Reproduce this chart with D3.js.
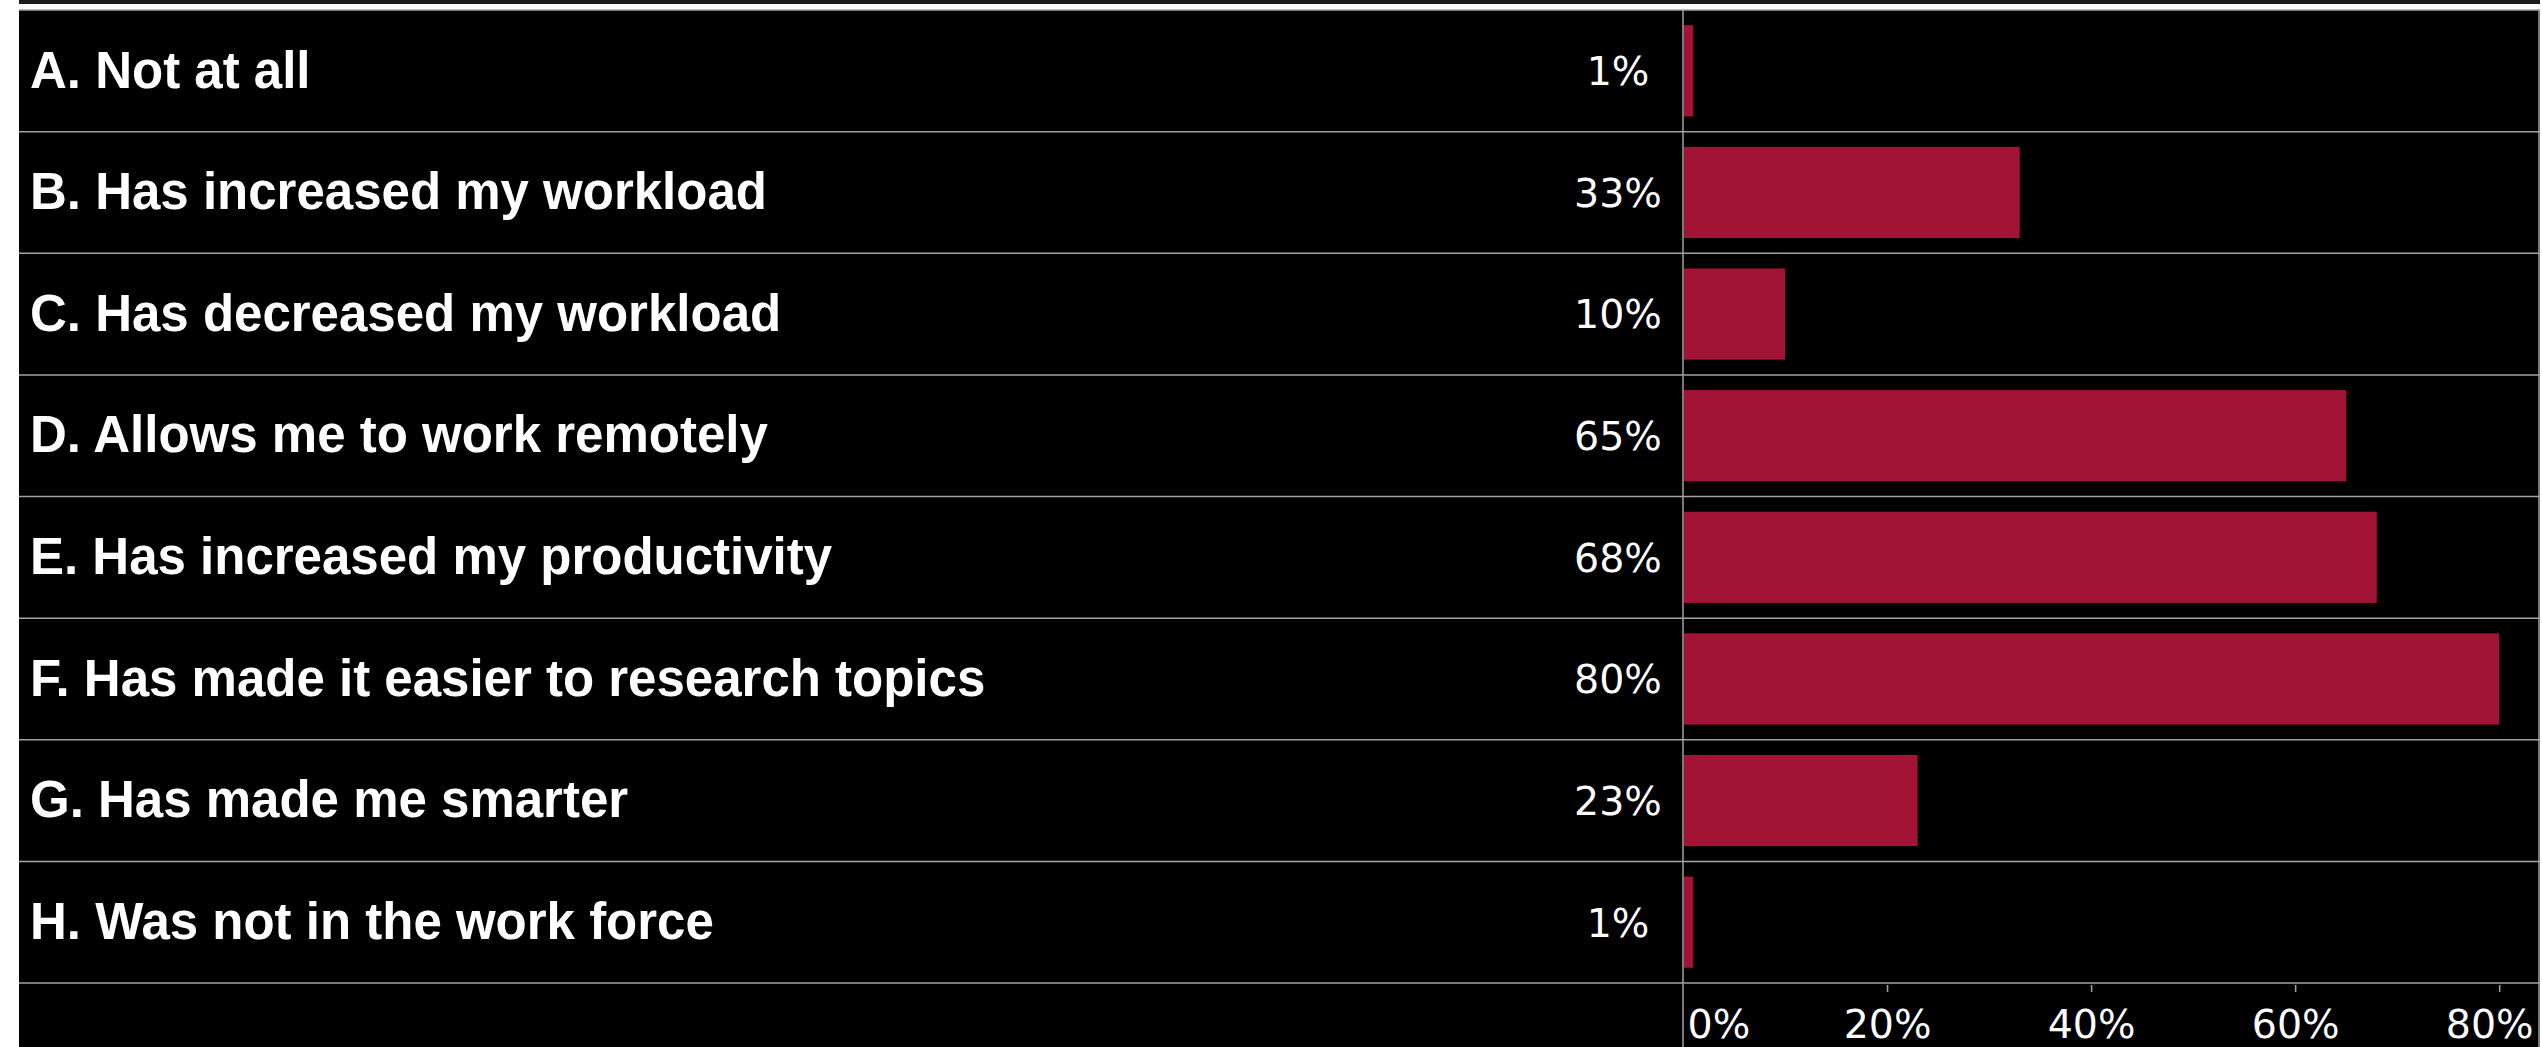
<!DOCTYPE html>
<html>
<head>
<meta charset="utf-8">
<script src="https://cdn.jsdelivr.net/npm/d3@7"></script>
<style>
  html, body { margin: 0; padding: 0; background: #ffffff; }
  svg { display: block; }
</style>
</head>
<body>
<svg id="chart" width="2542" height="1047"></svg>
<script>
// Survey answers and share of respondents choosing each
const categories = [
  "A. Not at all",
  "B. Has increased my workload",
  "C. Has decreased my workload",
  "D. Allows me to work remotely",
  "E. Has increased my productivity",
  "F. Has made it easier to research topics",
  "G. Has made me smarter",
  "H. Was not in the work force"
];
const shares = [0.01, 0.33, 0.10, 0.65, 0.68, 0.80, 0.23, 0.01];
const tickValues = [0, 0.2, 0.4, 0.6, 0.8];

const W = 2542, H = 1047;
const panel = { left: 19, top: 10, right: 2540, bottom: H };
const rowsBottom = 983;
const zeroX = 1683;
const valueLabelX = 1618;
const barColor = "#a31335";
const gridColor = "#a3a3a3";

const svg = d3.select("#chart");

// dark strip along the top edge and the black panel
svg.append("rect").attr("x", panel.left).attr("y", 0)
  .attr("width", panel.right - panel.left).attr("height", 4).attr("fill", "#1c1c1c");
svg.append("rect").attr("x", panel.left).attr("y", panel.top)
  .attr("width", panel.right - panel.left).attr("height", panel.bottom - panel.top)
  .attr("fill", "#000000");

const y = d3.scaleBand()
  .domain(categories)
  .range([panel.top, rowsBottom])
  .paddingInner(0.25)
  .paddingOuter(0.125);

const x = d3.scaleLinear()
  .domain([0, 0.84])
  .range([zeroX, panel.right]);

const pct = d3.format(".0%");

// row separators
const step = y.step();
const rowEdges = d3.range(categories.length + 1).map(i => panel.top + i * step);
svg.append("g").selectAll("line").data(rowEdges).join("line")
  .attr("x1", panel.left).attr("x2", panel.right)
  .attr("y1", d => d).attr("y2", d => d)
  .attr("stroke", gridColor).attr("stroke-width", 1.5);

// zero line and right frame
svg.append("line").attr("x1", zeroX).attr("x2", zeroX)
  .attr("y1", panel.top).attr("y2", H)
  .attr("stroke", gridColor).attr("stroke-width", 1.5);
svg.append("line").attr("x1", panel.right - 1).attr("x2", panel.right - 1)
  .attr("y1", panel.top).attr("y2", H)
  .attr("stroke", gridColor).attr("stroke-width", 1.5);

// bars
svg.append("g").selectAll("rect").data(categories).join("rect")
  .attr("x", x(0) + 1)
  .attr("y", d => y(d))
  .attr("width", (d, i) => Math.max(0, x(shares[i]) - x(0) - 1))
  .attr("height", y.bandwidth())
  .attr("fill", barColor);

// category labels
const catSize = 51;
svg.append("g").selectAll("text").data(categories).join("text")
  .attr("x", 30)
  .attr("y", d => y(d) + y.bandwidth() / 2 + catSize * 0.358 - 1.5)
  .attr("fill", "#ffffff")
  .attr("font-family", "'Liberation Sans', Arial, sans-serif")
  .attr("font-weight", "bold")
  .attr("font-size", catSize)
  .text(d => d);

// value labels
const valSize = 39.5;
const valFont = "'DejaVu Sans', sans-serif";
svg.append("g").selectAll("text").data(categories).join("text")
  .attr("x", valueLabelX)
  .attr("y", (d, i) => y(d) + y.bandwidth() / 2 + valSize * 0.364)
  .attr("text-anchor", "middle")
  .attr("fill", "#ffffff")
  .attr("font-family", valFont)
  .attr("font-size", valSize)
  .text((d, i) => pct(shares[i]));

// bottom axis
const axis = d3.axisBottom(x)
  .tickValues(tickValues)
  .tickFormat(pct)
  .tickSize(7)
  .tickPadding(0)
  .tickSizeOuter(0);

const gAxis = svg.append("g")
  .attr("transform", `translate(0,${rowsBottom + 2})`)
  .call(axis);
gAxis.select(".domain").remove();
gAxis.selectAll(".tick line")
  .attr("stroke", gridColor).attr("stroke-width", 1.5)
  .filter(d => d === 0).remove();
gAxis.selectAll(".tick text")
  .attr("fill", "#ffffff")
  .attr("font-family", valFont)
  .attr("font-size", valSize)
  .attr("dy", null)
  .attr("y", 1038 - rowsBottom - 2)
  .attr("text-anchor", d => d === 0 ? "start" : "middle")
  .attr("x", d => d === 0 ? 4 : (d === tickValues[tickValues.length - 1] ? -10 : 0));
</script>
</body>
</html>
